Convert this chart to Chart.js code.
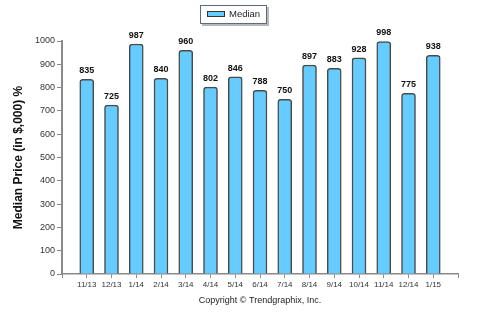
<!DOCTYPE html>
<html>
<head>
<meta charset="utf-8">
<script src="https://cdn.jsdelivr.net/npm/chart.js@4.4.1/dist/chart.umd.min.js"></script>
<style>
  html, body { margin: 0; padding: 0; background: #fff; }
  #wrap { width: 485px; height: 323px; }
</style>
</head>
<body>
<div id="wrap"><canvas id="priceChart"></canvas></div>
<script>
const months = ['11/13', '12/13', '1/14', '2/14', '3/14', '4/14', '5/14', '6/14', '7/14', '8/14', '9/14', '10/14', '11/14', '12/14', '1/15'];
const medianPrice = [835, 725, 987, 840, 960, 802, 846, 788, 750, 897, 883, 928, 998, 775, 938];
const yTicks = [0, 100, 200, 300, 400, 500, 600, 700, 800, 900, 1000];

const FONT = "'Liberation Sans', Arial, sans-serif";
const AXIS = '#8a8a8a';

// value labels above each bar
const valueLabels = {
  id: 'valueLabels',
  afterDatasetsDraw(chart) {
    const ctx = chart.ctx;
    const meta = chart.getDatasetMeta(0);
    ctx.save();
    ctx.font = 'bold 9px ' + FONT;
    ctx.fillStyle = '#111';
    ctx.textAlign = 'center';
    ctx.textBaseline = 'bottom';
    meta.data.forEach((bar, i) => {
      ctx.fillText(medianPrice[i], bar.x, bar.y - 4);
    });
    ctx.restore();
  }
};

// boxed legend at the top and copyright line under the axis
const frame = {
  id: 'frame',
  afterDraw(chart) {
    const ctx = chart.ctx;
    const area = chart.chartArea;
    ctx.save();
    const lx = 200, ly = 5, lw = 67, lh = 19;
    ctx.fillStyle = '#b8b8b8';
    ctx.fillRect(lx + 2, ly + 2, lw, lh);
    ctx.fillStyle = '#fff';
    ctx.fillRect(lx, ly, lw, lh);
    ctx.strokeStyle = '#5a6a88';
    ctx.lineWidth = 1;
    ctx.strokeRect(lx + 0.5, ly + 0.5, lw - 1, lh - 1);
    ctx.fillStyle = '#66ccff';
    ctx.fillRect(207.5, 11.5, 17, 5);
    ctx.strokeStyle = '#333';
    ctx.strokeRect(207.5, 11.5, 17, 5);
    ctx.fillStyle = '#222';
    ctx.font = '9.5px ' + FONT;
    ctx.textBaseline = 'middle';
    ctx.fillText(chart.data.datasets[0].label, 229, 14.5);

    ctx.textAlign = 'center';
    ctx.fillStyle = '#222';
    ctx.font = '9px ' + FONT;
    ctx.fillText('Copyright \u00a9 Trendgraphix, Inc.', (area.left + area.right) / 2, 301);
    ctx.restore();
  }
};

new Chart(document.getElementById('priceChart'), {
  type: 'bar',
  data: {
    datasets: [{
      label: 'Median',
      data: medianPrice.map((v, i) => ({ x: i + 1, y: v })),
      backgroundColor: '#66ccff',
      borderColor: '#4a4a4a',
      borderWidth: 1.5,
      borderSkipped: 'bottom',
      borderRadius: { topLeft: 3, topRight: 3 },
      barThickness: 14
    }]
  },
  options: {
    responsive: true,
    maintainAspectRatio: false,
    animation: false,
    layout: { padding: { top: 41, right: 27, bottom: 0, left: 0 } },
    plugins: { legend: { display: false }, tooltip: { enabled: false } },
    scales: {
      x: {
        type: 'linear',
        min: 0,
        max: 16,
        offset: false,
        afterFit: (s) => { s.height = 49; },
        afterBuildTicks: (s) => { s.ticks = Array.from({ length: months.length + 2 }, (_, i) => ({ value: i })); },
        border: { color: AXIS, width: 1.5 },
        grid: { offset: false, drawOnChartArea: false, color: AXIS, tickLength: 4, lineWidth: 1 },
        ticks: {
          autoSkip: false,
          maxRotation: 0,
          padding: 2,
          color: '#333',
          font: { family: FONT, size: 8 },
          callback: (v) => months[v - 1] || ''
        }
      },
      y: {
        min: 0,
        max: 1000,
        afterFit: (s) => { s.width = 62; },
        afterBuildTicks: (s) => { s.ticks = yTicks.map((v) => ({ value: v })); },
        border: { color: AXIS, width: 2 },
        grid: { drawOnChartArea: false, color: AXIS, tickLength: 5, lineWidth: 1 },
        ticks: { padding: 2, color: '#333', font: { family: FONT, size: 9 }, callback: (v) => String(v) },
        title: {
          display: true,
          text: 'Median Price (in $,000) %',
          color: '#111',
          font: { family: FONT, size: 12, weight: 'bold' },
          padding: { top: 11, bottom: 0 }
        }
      }
    }
  },
  plugins: [valueLabels, frame]
});
</script>
</body>
</html>
